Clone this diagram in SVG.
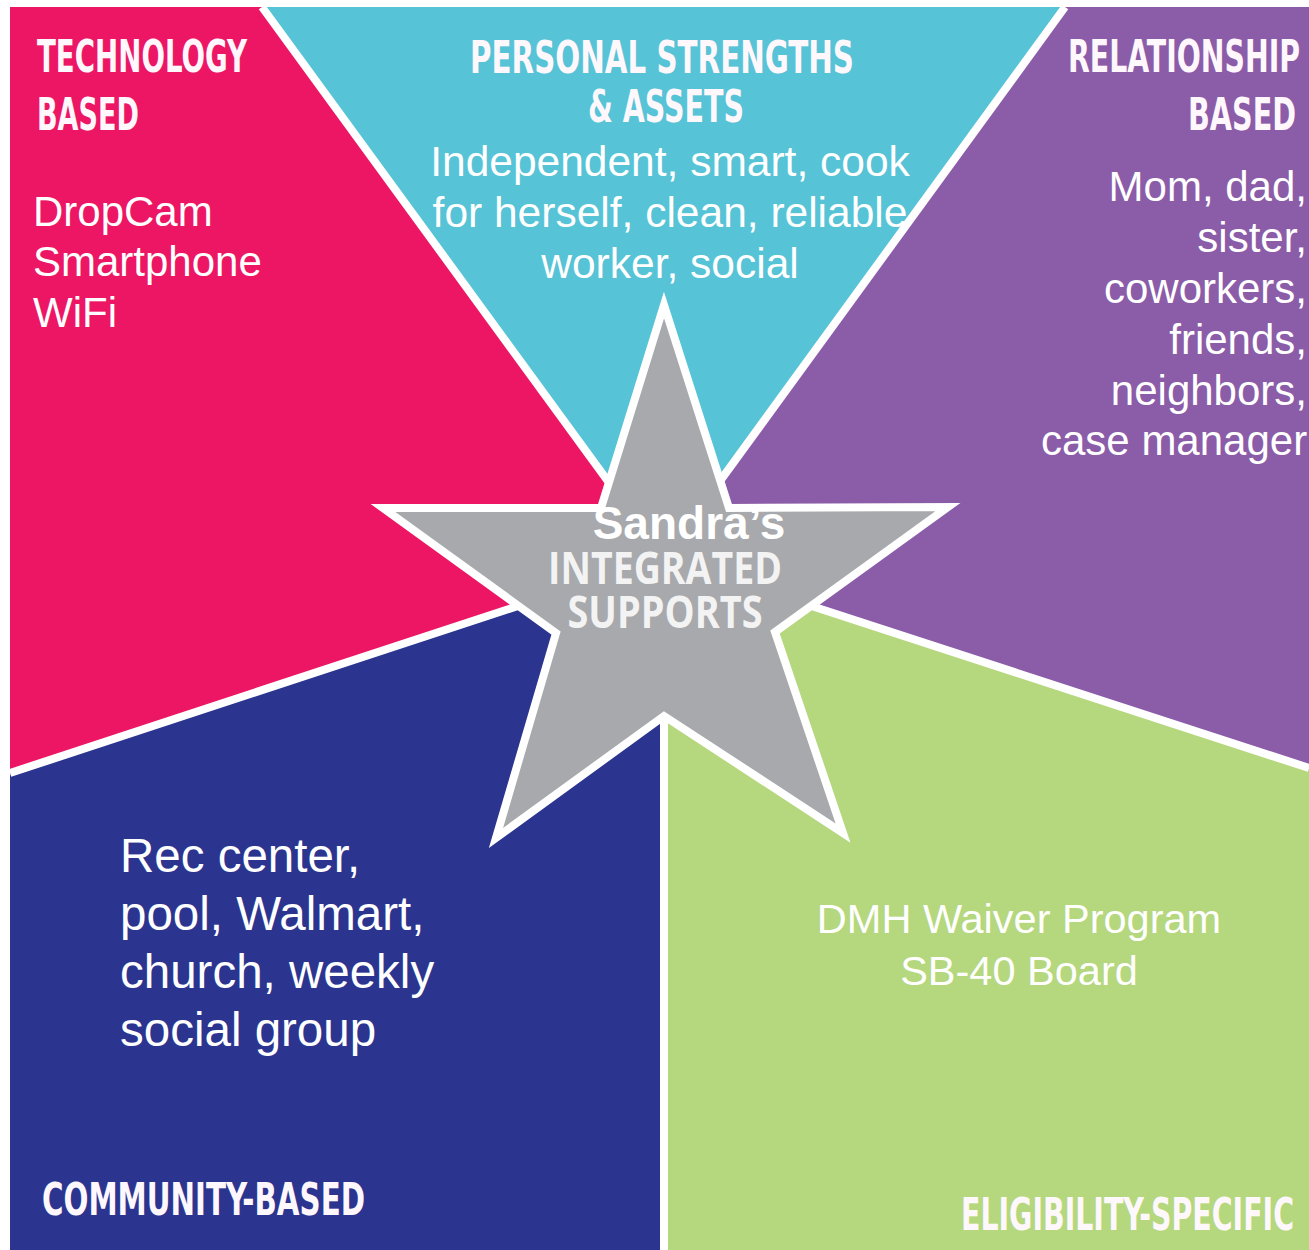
<svg xmlns="http://www.w3.org/2000/svg" width="1309" height="1250" viewBox="0 0 1309 1250">
  <style>
    .hdr { font-family: "DejaVu Sans Condensed", "DejaVu Sans", "Liberation Sans Narrow", sans-serif; font-stretch: condensed; font-weight: bold; font-size: 45px; fill: #FEF7FC; }
    .body { font-family: "Liberation Sans", Arial, sans-serif; font-size: 42px; fill: #FFFFFF; }
    .ctr { font-family: "Open Sans", "Liberation Sans", sans-serif; font-weight: bold; font-size: 44px; fill: #F3F3F3; }
    .div { stroke: #FFFFFF; stroke-width: 8; fill: none; stroke-linecap: butt; }
  </style>
  <rect x="0" y="0" width="1309" height="1250" fill="#FFFFFF"/>

  <g id="technology">
    <polygon points="10,7 262,7 664,558 10,773" fill="#EC1664"/>
    <text class="hdr" x="37" y="72" textLength="210" lengthAdjust="spacingAndGlyphs">TECHNOLOGY</text>
    <text class="hdr" x="37" y="130" textLength="102" lengthAdjust="spacingAndGlyphs">BASED</text>
    <text class="body" x="33" y="226">DropCam</text>
    <text class="body" x="33" y="276">Smartphone</text>
    <text class="body" x="33" y="327">WiFi</text>
  </g>

  <g id="personal">
    <polygon points="262,7 1065,7 664,558" fill="#57C3D6"/>
    <text class="hdr" x="662" y="73" text-anchor="middle" textLength="384" lengthAdjust="spacingAndGlyphs">PERSONAL STRENGTHS</text>
    <text class="hdr" x="666" y="122" text-anchor="middle" textLength="156" lengthAdjust="spacingAndGlyphs">&amp; ASSETS</text>
    <text class="body" x="670" y="176" text-anchor="middle" style="font-size:42.5px">Independent, smart, cook</text>
    <text class="body" x="670" y="227" text-anchor="middle" style="font-size:42.5px">for herself, clean, reliable</text>
    <text class="body" x="670" y="278" text-anchor="middle" style="font-size:42.5px">worker, social</text>
  </g>

  <g id="relationship">
    <polygon points="1065,7 1309,7 1309,768 664,558" fill="#8B5CA8"/>
    <text class="hdr" x="1068" y="72" textLength="232" lengthAdjust="spacingAndGlyphs">RELATIONSHIP</text>
    <text class="hdr" x="1188" y="130" textLength="108" lengthAdjust="spacingAndGlyphs">BASED</text>
    <text class="body" x="1307" y="201" text-anchor="end">Mom, dad,</text>
    <text class="body" x="1307" y="252" text-anchor="end">sister,</text>
    <text class="body" x="1307" y="303" text-anchor="end">coworkers,</text>
    <text class="body" x="1307" y="354" text-anchor="end">friends,</text>
    <text class="body" x="1307" y="405" text-anchor="end">neighbors,</text>
    <text class="body" x="1041" y="455">case manager</text>
  </g>

  <g id="eligibility">
    <polygon points="664,558 1309,768 1309,1250 664,1250" fill="#B5D77E"/>
    <text class="body" x="1019" y="933" text-anchor="middle" style="font-size:41.5px">DMH Waiver Program</text>
    <text class="body" x="1019" y="985" text-anchor="middle" style="font-size:41.5px">SB-40 Board</text>
    <text class="hdr" x="961" y="1230" textLength="333" lengthAdjust="spacingAndGlyphs">ELIGIBILITY-SPECIFIC</text>
  </g>

  <g id="community">
    <polygon points="10,773 664,558 664,1250 10,1250" fill="#2B3590"/>
    <text class="body" x="120" y="872" style="font-size:47.5px">Rec center,</text>
    <text class="body" x="120" y="930" style="font-size:47.5px">pool, Walmart,</text>
    <text class="body" x="120" y="988" style="font-size:47.5px">church, weekly</text>
    <text class="body" x="120" y="1046" style="font-size:47.5px">social group</text>
    <text class="hdr" x="42" y="1215" textLength="323" lengthAdjust="spacingAndGlyphs">COMMUNITY-BASED</text>
  </g>

  <g id="connectors">
    <line class="div" x1="262" y1="7" x2="664" y2="558"/>
    <line class="div" x1="1065" y1="7" x2="664" y2="558"/>
    <line class="div" x1="10" y1="773" x2="664" y2="558"/>
    <line class="div" x1="1309" y1="768" x2="664" y2="558"/>
    <line class="div" x1="664" y1="558" x2="664" y2="1250"/>
  </g>

  <g id="star">
    <polygon points="664,305 601,508 383,508 556,633 496,838 664,716 843,833 775,632 948,507 729,508" fill="#A7A9AC" stroke="#FFFFFF" stroke-width="8" stroke-linejoin="miter" stroke-miterlimit="10"/>
    <text x="689" y="539" text-anchor="middle" style="font-family:'Liberation Sans', Arial, sans-serif; font-weight:bold; font-size:46px; fill:#FFFFFF">Sandra’s</text>
    <text class="ctr" x="665" y="584" text-anchor="middle" textLength="234" lengthAdjust="spacingAndGlyphs">INTEGRATED</text>
    <text class="ctr" x="665" y="628" text-anchor="middle" textLength="195" lengthAdjust="spacingAndGlyphs">SUPPORTS</text>
  </g>
</svg>
